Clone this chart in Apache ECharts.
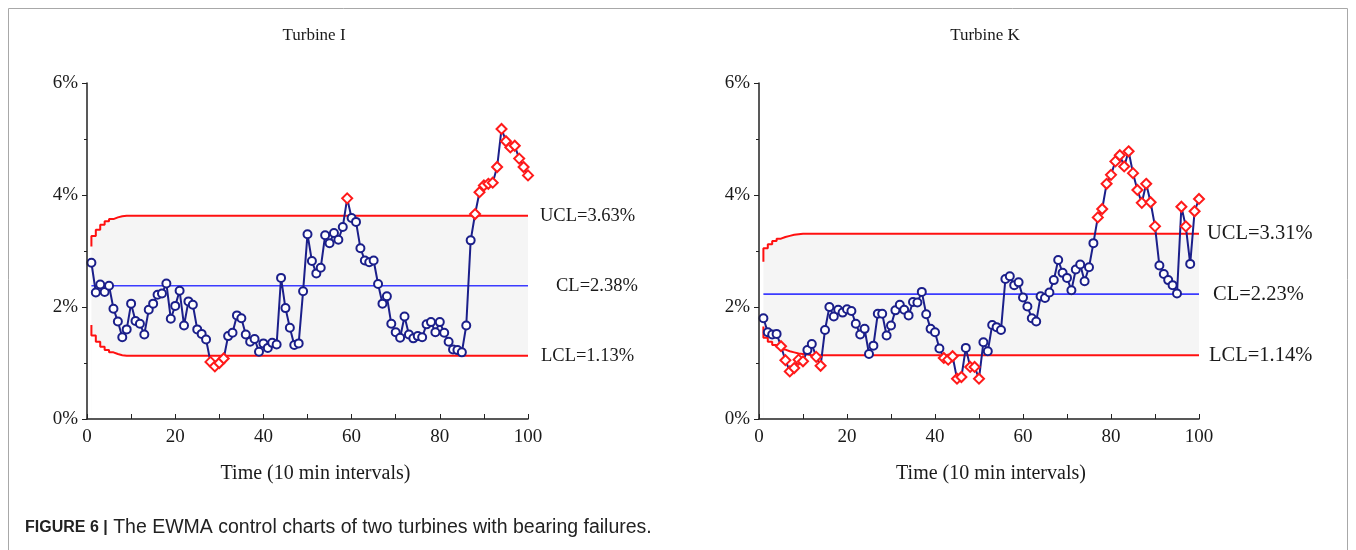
<!DOCTYPE html>
<html><head><meta charset="utf-8">
<script src="https://cdn.jsdelivr.net/npm/echarts@6/dist/echarts.min.js"></script>
<style>html,body{margin:0;padding:0;background:#fff}#c{width:1356px;height:550px}</style>
</head><body><div id="c"></div>
<script>
// ---- data ----
const turbineI = [2.79,2.26,2.40,2.27,2.38,1.97,1.74,1.46,1.60,2.06,
  1.75,1.70,1.51,1.95,2.06,2.22,2.24,2.42,1.79,2.02,
  2.29,1.67,2.10,2.04,1.60,1.52,1.42,1.02,0.94,1.00,
  1.08,1.48,1.54,1.85,1.80,1.51,1.38,1.43,1.20,1.35,
  1.27,1.36,1.33,2.52,1.98,1.63,1.32,1.35,2.28,3.30,
  2.82,2.60,2.70,3.28,3.14,3.32,3.20,3.43,3.94,3.59,
  3.52,3.05,2.83,2.80,2.83,2.41,2.06,2.19,1.70,1.55,
  1.45,1.83,1.51,1.44,1.48,1.46,1.69,1.73,1.55,1.73,
  1.54,1.38,1.24,1.23,1.19,1.67,3.19,3.66,4.05,4.17,
  4.20,4.22,4.50,5.18,4.96,4.85,4.88,4.65,4.50,4.35];
const turbineK = [1.80,1.55,1.51,1.52,1.30,1.05,0.85,0.91,1.06,1.03,
  1.23,1.34,1.11,0.95,1.59,2.00,1.83,1.95,1.90,1.96,
  1.93,1.70,1.51,1.61,1.16,1.31,1.88,1.88,1.49,1.67,
  1.94,2.04,1.95,1.85,2.09,2.08,2.27,1.87,1.61,1.55,
  1.26,1.09,1.06,1.12,0.72,0.75,1.27,0.93,0.93,0.72,
  1.37,1.21,1.68,1.64,1.59,2.50,2.55,2.39,2.44,2.17,
  2.01,1.80,1.74,2.19,2.16,2.26,2.48,2.84,2.61,2.52,
  2.30,2.67,2.76,2.46,2.71,3.14,3.60,3.75,4.20,4.36,
  4.60,4.71,4.51,4.78,4.39,4.09,3.86,4.20,3.87,3.44,
  2.74,2.59,2.48,2.39,2.24,3.79,3.44,2.77,3.71,3.93];
// out-of-control points (1-based time index), drawn as red diamonds
const redI = [28,29,30,31,59,88,89,90,91,92,93,94,95,96,97,98,99,100];
const redK = [5,6,7,8,9,10,13,14,42,43,44,45,46,48,49,50,
  77,78,79,80,81,82,83,84,85,86,87,88,89,90,96,97,99,100];
// control limits
const uclI = 3.63, clI = 2.38, lclI = 1.13;
const uclK = 3.31, clK = 2.23, lclK = 1.14;
const uclIStart = [3.08,3.27,3.38,3.47,3.53,3.57,3.60,3.62];
const lclIStart = [1.68,1.49,1.38,1.29,1.23,1.19,1.16,1.14];
const uclKStart = [2.81,3.05,3.12,3.18,3.22,3.25,3.27,3.29,3.30];
const lclKStart = [1.65,1.45,1.38,1.32,1.28,1.24,1.21,1.19,1.17,1.16,1.15];
const titles = ['Turbine I','Turbine K'];
const xName = 'Time (10 min intervals)';
const yTicks = ['0%','2%','4%','6%'];

// ---- chart ----
const SERIF = '"Liberation Serif","Times New Roman",serif';
const SANS = '"Liberation Sans",Arial,sans-serif';
const NAVY = '#1b1f8a';
const chart = echarts.init(document.getElementById('c'), null, {renderer:'canvas'});

function limitSeries(start, fin, n){
  const out = [];
  for (let i=0;i<n;i++) out.push([i+1, i<start.length ? start[i] : fin]);
  return out;
}

function buildSeries(g, values, red, uStart, ucl, cl, lStart, lcl, dist, fs){
  const n = values.length;
  const u = limitSeries(uStart, ucl, n);
  const l = limitSeries(lStart, lcl, n);
  const redSet = new Set(red);
  const pts = values.map((v,i)=>{
    const t=i+1;
    if (redSet.has(t)) return {value:[t,v], symbol:'diamond', symbolSize:10,
      itemStyle:{color:'#fff', borderColor:'#ff1a1a', borderWidth:2}};
    return {value:[t,v]};
  });
  const lbl = (txt, d)=>({show:true, formatter:txt, distance:d, color:'#1a1a1a',
    fontFamily:SERIF, fontSize:fs});
  return [
    // shaded band between the limits
    {type:'line', xAxisIndex:g, yAxisIndex:g, step:'start', silent:true, data:u,
     symbol:'none', lineStyle:{width:0}, areaStyle:{color:'#f5f5f5', opacity:1}, z:1},
    {type:'line', xAxisIndex:g, yAxisIndex:g, step:'start', silent:true, data:l,
     symbol:'none', lineStyle:{width:0}, areaStyle:{color:'#ffffff', opacity:1}, z:1},
    {type:'line', xAxisIndex:g, yAxisIndex:g, step:'start', data:u, symbol:'none',
     lineStyle:{color:'#ff1010', width:2}, z:2,
     endLabel: lbl('UCL='+ucl.toFixed(2)+'%', dist[0])},
    {type:'line', xAxisIndex:g, yAxisIndex:g, data:[[1,cl],[n,cl]], symbol:'none',
     lineStyle:{color:'#3b3bff', width:1.6}, z:2,
     endLabel: lbl('CL='+cl.toFixed(2)+'%', dist[1])},
    {type:'line', xAxisIndex:g, yAxisIndex:g, step:'start', data:l, symbol:'none',
     lineStyle:{color:'#ff1010', width:2}, z:2,
     endLabel: lbl('LCL='+lcl.toFixed(2)+'%', dist[2])},
    {type:'line', xAxisIndex:g, yAxisIndex:g, data:pts, symbol:'circle', symbolSize:8,
     showAllSymbol:true,
     lineStyle:{color:NAVY, width:2}, itemStyle:{color:'#fff', borderColor:NAVY, borderWidth:2}, z:5}
  ];
}

const axisText = {fontFamily:SERIF, fontSize:19, color:'#1a1a1a'};
function xAx(g, pad){
  return {gridIndex:g, type:'value', min:0, max:100, interval:10, z:10,
    name:xName, nameLocation:'middle', nameGap:45,
    nameTextStyle:{fontFamily:SERIF, fontSize:20, color:'#1a1a1a', padding:[0,0,0,pad]},
    axisLine:{lineStyle:{color:'#222', width:1.5}},
    axisTick:{inside:true, length:5, lineStyle:{color:'#222'}},
    axisLabel:Object.assign({margin:9, formatter:v=> v%20===0 ? String(v) : ''}, axisText),
    splitLine:{show:false}};
}
function yAx(g){
  return {gridIndex:g, type:'value', min:0, max:6, interval:2, z:10,
    axisLine:{show:true, lineStyle:{color:'#222', width:1.5}},
    axisTick:{show:true, length:5, lineStyle:{color:'#222'}},
    minorTick:{show:true, splitNumber:2, length:3, lineStyle:{color:'#222'}},
    axisLabel:Object.assign({margin:9, formatter:v=> yTicks[v/2]}, axisText),
    splitLine:{show:false}};
}

chart.setOption({
  animation:false,
  title:[
    {text:titles[0], left:309, top:22, textAlign:'center',
     textStyle:{fontFamily:SERIF, fontSize:17, fontWeight:'normal', color:'#1a1a1a'}},
    {text:titles[1], left:980, top:22, textAlign:'center',
     textStyle:{fontFamily:SERIF, fontSize:17, fontWeight:'normal', color:'#1a1a1a'}}
  ],
  grid:[
    {left:87, top:83, width:441, height:336},
    {left:759, top:83, width:440, height:336}
  ],
  xAxis:[xAx(0, 16), xAx(1, 24)],
  yAxis:[yAx(0), yAx(1)],
  series:[].concat(
    buildSeries(0, turbineI, redI, uclIStart, uclI, clI, lclIStart, lclI, [12,28,13], 18.5),
    buildSeries(1, turbineK, redK, uclKStart, uclK, clK, lclKStart, lclK, [8,14,10], 20.5)
  ),
  graphic:[
    {type:'rect', shape:{x:8.5, y:8.5, width:1339, height:600}, silent:true,
     style:{fill:'none', stroke:'#a8a8a8', lineWidth:1}},
    {type:'text', left:25, top:518, silent:true,
     style:{text:'{b|FIGURE 6 |} The EWMA control charts of two turbines with bearing failures.',
       fontFamily:SANS, fontSize:19.5, fill:'#222',
       rich:{b:{fontWeight:'bold', fontFamily:SANS, fontSize:16, fill:'#222'}}}}
  ]
});
</script></body></html>
